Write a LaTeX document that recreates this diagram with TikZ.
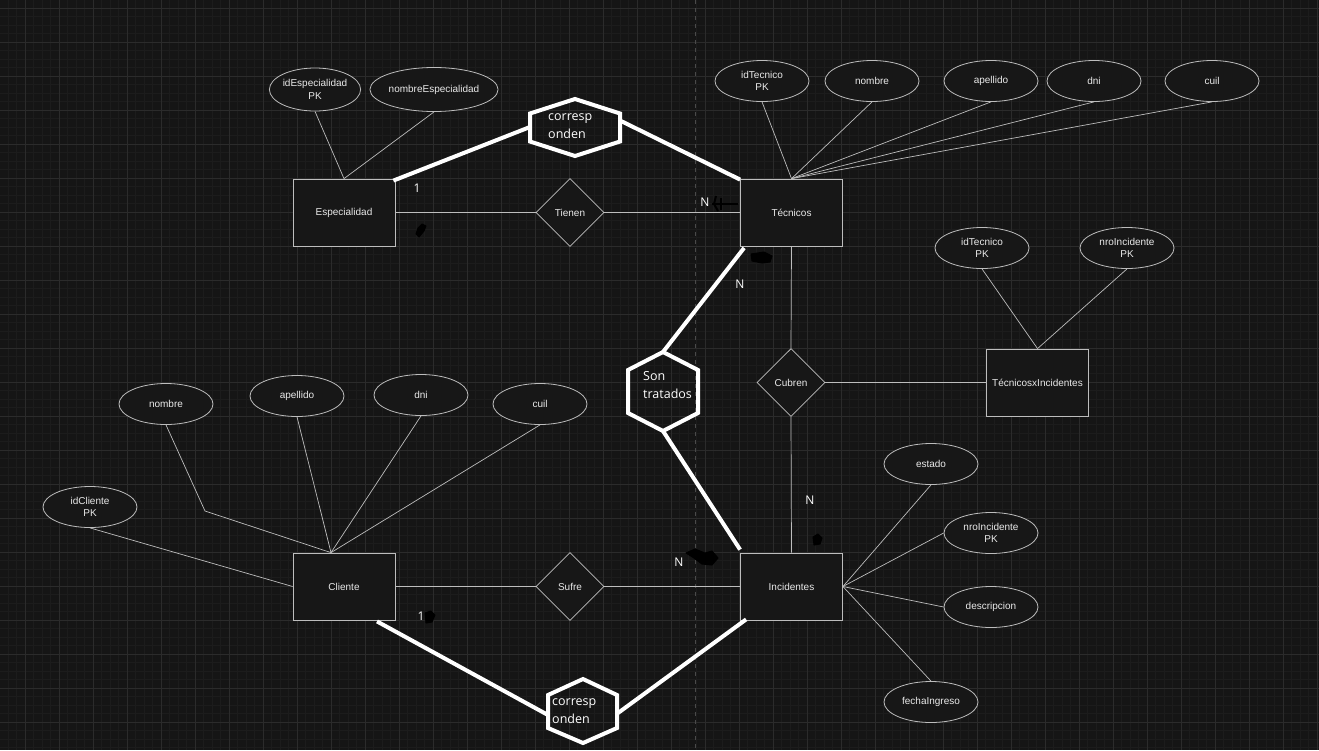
\documentclass[tikz,border=0pt]{standalone}
\usepackage{fontspec}
\setmainfont{Liberation Sans}
\newfontfamily\notefont{Open Sans}
\usetikzlibrary{shapes.geometric,calc}

\definecolor{bg}{HTML}{151515}
\definecolor{gridmin}{HTML}{1C1C1C}
\definecolor{gridmaj}{HTML}{2B2B2B}
\definecolor{shapefill}{HTML}{171717}
\definecolor{edgecol}{HTML}{BDBDBD}
\definecolor{txt}{HTML}{EAEAEA}
\definecolor{pagebreak}{HTML}{4A4A4A}

\tikzset{
  entity/.style={draw=edgecol, fill=shapefill, line width=0.8pt, rectangle,
    minimum width=102pt, minimum height=67pt, inner sep=0pt, text=txt,
    font=\fontsize{10}{12}\selectfont},
  relation/.style={draw=edgecol, fill=shapefill, line width=0.8pt, diamond,
    minimum width=68pt, minimum height=68pt, inner sep=0pt, text=txt,
    font=\fontsize{10}{12}\selectfont},
  attr/.style={draw=edgecol, fill=shapefill, line width=0.8pt, ellipse,
    minimum width=94pt, minimum height=41pt, inner sep=0pt, align=center,
    text=txt, font=\fontsize{10}{12.5}\selectfont},
  link/.style={draw=edgecol, line width=0.7pt},
  noteline/.style={draw=white, line width=4pt},
  notetext/.style={text=white, align=left, anchor=west, inner sep=0pt,
    font=\notefont\fontsize{12.5}{18}\selectfont},
  cardlabel/.style={text=white, inner sep=0pt,
    font=\notefont\fontsize{12}{12}\selectfont},
  scribble/.style={fill=black, draw=black, line width=1pt, line join=round}
}

\begin{document}
\begin{tikzpicture}[x=1pt,y=-1pt]
  % canvas and grid
  \fill[bg] (0,0) rectangle (1319,750);
  \useasboundingbox (0,0) rectangle (1319,750);
  \begin{scope}
    \clip (0,0) rectangle (1319,750);
    \foreach \i in {0,...,157} {
      \draw[gridmin, line width=0.6pt] (-9+8.5*\i,0) -- (-9+8.5*\i,750);
    }
    \foreach \i in {0,...,89} {
      \draw[gridmin, line width=0.6pt] (0,8+8.5*\i) -- (1319,8+8.5*\i);
    }
    \foreach \i in {0,...,39} {
      \draw[gridmaj, line width=0.7pt] (-9+34*\i,0) -- (-9+34*\i,750);
    }
    \foreach \i in {0,...,22} {
      \draw[gridmaj, line width=0.7pt] (0,8+34*\i) -- (1319,8+34*\i);
    }
    \draw[pagebreak, line width=0.7pt, dash pattern=on 4pt off 4pt] (695,0) -- (695,750);
  \end{scope}

  % entities and relationships
  \node[entity]   (esp)  at (344,212.5)   {Especialidad};
  \node[relation] (tien) at (570,212.5)   {Tienen};
  \node[entity]   (tec)  at (791.5,212.5) {Técnicos};
  \node[relation] (cub)  at (791,382.5)   {Cubren};
  \node[entity]   (txi)  at (1037.5,382.5) {TécnicosxIncidentes};
  \node[entity]   (cli)  at (344,586.5)   {Cliente};
  \node[relation] (suf)  at (570,586.5)   {Sufre};
  \node[entity]   (inc)  at (791.5,586.5) {Incidentes};

  % attributes
  \node[attr, minimum width=86pt, minimum height=43pt] (aesp1) at (315,89.5) {idEspecialidad\\PK};
  \node[attr, minimum width=120pt, minimum height=44pt] (aesp2) at (434,89.5) {nombreEspecialidad};

  \node[attr] (atec1) at (762,81)  {idTecnico\\PK};
  \node[attr] (atec2) at (872,81)  {nombre};
  \node[attr] (atec3) at (991,81)  {apellido};
  \node[attr] (atec4) at (1094,81) {dni};
  \node[attr] (atec5) at (1212,81) {cuil};

  \node[attr] (atxi1) at (982,248)  {idTecnico\\PK};
  \node[attr] (atxi2) at (1127,248) {nroIncidente\\PK};

  \node[attr] (acli1) at (90,507)  {idCliente\\PK};
  \node[attr] (acli2) at (166,404) {nombre};
  \node[attr] (acli3) at (297,396) {apellido};
  \node[attr] (acli4) at (421,395) {dni};
  \node[attr] (acli5) at (540,404) {cuil};

  \node[attr] (ainc1) at (931,464) {estado};
  \node[attr] (ainc2) at (991,533) {nroIncidente\\PK};
  \node[attr] (ainc3) at (991,607) {descripcion};
  \node[attr] (ainc4) at (931,702) {fechaIngreso};

  % relationship links
  \draw[link] (esp.east) -- (tien.west);
  \draw[link] (tien.east) -- (tec.west);
  \draw[link] (tec.south) -- (cub.north);
  \draw[link] (cub.south) -- (inc.north);
  \draw[link] (cub.east) -- (txi.west);
  \draw[link] (cli.east) -- (suf.west);
  \draw[link] (suf.east) -- (inc.west);

  % attribute links
  \draw[link] (aesp1.south) -- (esp.north);
  \draw[link] (aesp2.south) -- (esp.north);
  \foreach \a in {atec1,atec2,atec3,atec4,atec5} {
    \draw[link] (\a.south) -- (tec.north);
  }
  \draw[link] (atxi1.south) -- (txi.north);
  \draw[link] (atxi2.south) -- (txi.north);
  \draw[link] (acli1.south) -- (cli.west);
  \draw[link] (acli2.south) -- (205,511) -- ([xshift=-13pt]cli.north);
  \draw[link] (acli3.south) -- ([xshift=-13pt]cli.north);
  \draw[link] (acli4.south) -- ([xshift=-13pt]cli.north);
  \draw[link] (acli5.south) -- ([xshift=-13pt]cli.north);
  \draw[link] (inc.east) -- (ainc1.south);
  \draw[link] (inc.east) -- (ainc2.west);
  \draw[link] (inc.east) -- (ainc3.west);
  \draw[link] (inc.east) -- (ainc4.north);

  % hand-drawn hexagon: corresponden (top)
  \coordinate (hAl) at (530,127);
  \coordinate (hAr) at (621,121);
  \draw[noteline, line join=miter]
    (575,99) -- (620,113.5) -- (620,141.5) -- (575,156) -- (530,141.5) -- (530,113.5) -- cycle;
  \node[notetext] (tA) at (548,126.5) {corresp\\onden};
  \draw[noteline] ([xshift=-2pt,yshift=-2pt]esp.north east) -- (hAl);
  \draw[noteline] (hAr) -- ([yshift=-1pt]tec.north west);

  % hand-drawn hexagon: Son tratados
  \coordinate (hBt) at (663,352);
  \coordinate (hBb) at (663,431);
  \draw[noteline, line join=miter]
    (hBt) -- (698,370) -- (698,413) -- (hBb) -- (628,413) -- (628,370) -- cycle;
  \node[notetext] (tB) at (643,385.5) {Son\\tratados};
  \draw[noteline] ([xshift=4pt,yshift=-1.5pt]tec.south west) -- (hBt);
  \draw[noteline] (hBb) -- ([yshift=3pt]inc.north west);

  % hand-drawn hexagon: corresponden (bottom)
  \coordinate (hCl) at (548,715);
  \coordinate (hCr) at (618,713);
  \draw[noteline, line join=miter]
    (583,679) -- (617,695) -- (617,728) -- (583,743) -- (548,728) -- (548,695) -- cycle;
  \node[notetext] (tC) at (552,711.5) {corresp\\onden};
  \draw[noteline] ([xshift=33pt,yshift=-1pt]cli.south) -- (hCl);
  \draw[noteline] (hCr) -- ([xshift=6pt,yshift=1pt]inc.south west);

  % cardinality labels
  \node[cardlabel] (c1) at (417,188) {1};
  \node[cardlabel] (c2) at (705,202) {N};
  \node[cardlabel] (c3) at (740,284) {N};
  \node[cardlabel] (c4) at (810,500) {N};
  \node[cardlabel] (c5) at (679,562) {N};
  \node[cardlabel] (c6) at (421,616) {1};

  % black pen scribbles
  \draw[scribble] (416,234) -- (418,228) -- (422,224) -- (426,226) -- (424,231) -- (419,237) -- cycle;
  \draw[black, line width=2pt] (712,204) -- (738,204);
  \draw[black, line width=2pt] (716,196) -- (714,204) -- (718,211);
  \draw[black, line width=2pt] (721,198) -- (721,210);
  \draw[scribble] (751,254) -- (764,252) -- (772,256) -- (770,262) -- (762,263) -- (752,261) -- cycle;
  \draw[scribble] (686,553) -- (695,549) -- (705,553) -- (712,551) -- (718,558) -- (712,565) -- (702,564) -- (694,558) -- cycle;
  \draw[scribble] (813,537) -- (818,534) -- (822,538) -- (820,544) -- (814,545) -- cycle;
  \draw[scribble] (425,613) -- (431,611) -- (435,615) -- (432,622) -- (426,623) -- cycle;
\end{tikzpicture}
\end{document}
